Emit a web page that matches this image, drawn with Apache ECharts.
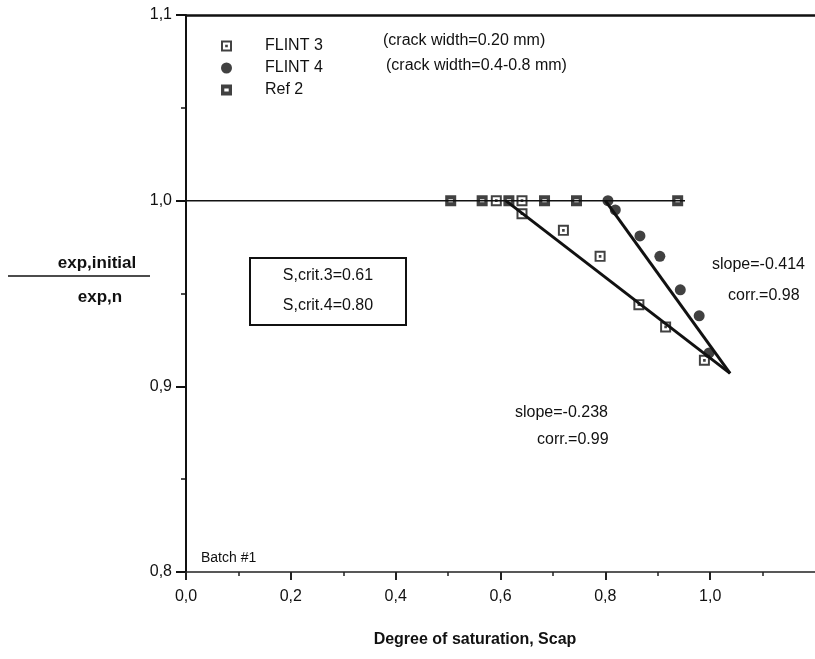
<!DOCTYPE html>
<html>
<head>
<meta charset="utf-8">
<script src="https://cdn.jsdelivr.net/npm/echarts@6/dist/echarts.min.js"></script>
<style>
  html, body { margin: 0; padding: 0; background: #fff; }
  #chart { width: 815px; height: 659px; }
</style>
</head>
<body>
<div id="chart"></div>
<script>
// values
const seriesNames = ['FLINT 3', 'FLINT 4', 'Ref 2']
const flint3 = [[0.592, 1.0], [0.641, 1.0], [0.641, 0.993], [0.720, 0.984], [0.790, 0.970],
  [0.864, 0.944], [0.915, 0.932], [0.989, 0.914]]
const flint4 = [[0.805, 1.0], [0.819, 0.995], [0.866, 0.981], [0.904, 0.970], [0.943, 0.952],
  [0.979, 0.938], [0.998, 0.918]]
const ref2 = [[0.505, 1.0], [0.565, 1.0], [0.616, 1.0], [0.684, 1.0], [0.745, 1.0], [0.938, 1.0]]
const baseLine = [[0, 1.0], [0.952, 1.0]]
const fit3 = [[0.61, 1.0], [1.038, 0.907]]
const fit4 = [[0.80, 1.0], [1.038, 0.907]]
const xTickValues = [0, 0.2, 0.4, 0.6, 0.8, 1.0]

const FONT = '"Liberation Sans", Arial, sans-serif'
const INK = '#111'

// square with a dot in the middle / bold square with a small hole
const symFlint3 = 'path://M0,0H10V10H0Z M1.8,1.8V8.2H8.2V1.8Z M3.8,3.8H6.2V6.2H3.8Z'
const symRef2 = 'path://M0,0H10V10H0Z M3,3.6V6.4H7V3.6Z'

const fmt = (v) => v.toFixed(1).replace('.', ',')

const chart = echarts.init(document.getElementById('chart'))

const option = {
  backgroundColor: '#fff',
  animation: false,
  grid: { left: 186, right: -4, top: 15, bottom: 87 },
  legend: {
    orient: 'vertical',
    left: 216,
    top: 33,
    itemWidth: 11,
    itemHeight: 11,
    itemGap: 6,
    data: seriesNames,
    textStyle: { fontFamily: FONT, fontSize: 16, color: INK, padding: [0, 0, 0, 28] },
  },
  xAxis: [
    {
      type: 'value',
      min: 0,
      max: 1.2,
      interval: 0.2,
      axisLine: { lineStyle: { color: '#222', width: 1.5 } },
      axisTick: { inside: false, length: 8, customValues: xTickValues, lineStyle: { color: '#222', width: 2 } },
      minorTick: { show: true, splitNumber: 2, length: 4, lineStyle: { color: '#222', width: 1.5 } },
      splitLine: { show: false },
      axisLabel: {
        fontFamily: FONT,
        fontSize: 16,
        color: INK,
        margin: 17,
        customValues: xTickValues,
        formatter: fmt,
      },
    },
    {
      // top frame line
      type: 'value',
      position: 'top',
      min: 0,
      max: 1.2,
      axisLine: { show: true, onZero: false, lineStyle: { color: '#111', width: 2.5 } },
      axisTick: { show: false },
      axisLabel: { show: false },
      splitLine: { show: false },
    },
  ],
  yAxis: {
    type: 'value',
    min: 0.8,
    max: 1.1,
    interval: 0.1,
    axisLine: { show: true, lineStyle: { color: '#111', width: 2 } },
    axisTick: { show: true, inside: false, length: 10, lineStyle: { color: '#111', width: 2 } },
    minorTick: { show: true, splitNumber: 2, length: 5, lineStyle: { color: '#111', width: 1.5 } },
    splitLine: { show: false },
    axisLabel: { fontFamily: FONT, fontSize: 16, color: INK, margin: 14, formatter: fmt },
  },
  series: [
    {
      name: 'base',
      type: 'line',
      data: baseLine,
      symbol: 'none',
      lineStyle: { color: INK, width: 1.5 },
      silent: true,
      z: 1,
    },
    {
      name: 'fit3',
      type: 'line',
      data: fit3,
      symbol: 'none',
      lineStyle: { color: INK, width: 3 },
      silent: true,
      z: 1,
    },
    {
      name: 'fit4',
      type: 'line',
      data: fit4,
      symbol: 'none',
      lineStyle: { color: INK, width: 3 },
      silent: true,
      z: 1,
    },
    {
      name: 'FLINT 3',
      type: 'scatter',
      data: flint3,
      symbol: symFlint3,
      symbolSize: 11,
      itemStyle: { color: INK },
      z: 3,
    },
    {
      name: 'FLINT 4',
      type: 'scatter',
      data: flint4,
      symbol: 'circle',
      symbolSize: 11,
      itemStyle: { color: INK },
      z: 3,
    },
    {
      name: 'Ref 2',
      type: 'scatter',
      data: ref2,
      symbol: symRef2,
      symbolSize: 11,
      itemStyle: { color: INK },
      z: 3,
    },
  ],
  graphic: [
    { type: 'text', style: { text: '(crack width=0.20 mm)', x: 383, y: 41, font: '16px ' + FONT, fill: INK, textVerticalAlign: 'middle' } },
    { type: 'text', style: { text: '(crack width=0.4-0.8 mm)', x: 386, y: 66, font: '16px ' + FONT, fill: INK, textVerticalAlign: 'middle' } },
    // y axis title as a fraction
    { type: 'text', style: { text: 'exp,initial', x: 97, y: 263, font: 'bold 17px ' + FONT, fill: INK, textAlign: 'center', textVerticalAlign: 'middle' } },
    { type: 'line', shape: { x1: 8, y1: 276, x2: 150, y2: 276 }, style: { stroke: INK, lineWidth: 1.5 } },
    { type: 'text', style: { text: 'exp,n', x: 100, y: 297, font: 'bold 17px ' + FONT, fill: INK, textAlign: 'center', textVerticalAlign: 'middle' } },
    // critical saturation box
    { type: 'rect', shape: { x: 250, y: 258, width: 156, height: 67 }, style: { fill: '#fff', stroke: INK, lineWidth: 2 } },
    { type: 'text', style: { text: 'S,crit.3=0.61', x: 328, y: 276, font: '16px ' + FONT, fill: INK, textAlign: 'center', textVerticalAlign: 'middle' } },
    { type: 'text', style: { text: 'S,crit.4=0.80', x: 328, y: 306, font: '16px ' + FONT, fill: INK, textAlign: 'center', textVerticalAlign: 'middle' } },
    // fit annotations
    { type: 'text', style: { text: 'slope=-0.414', x: 712, y: 265, font: '16px ' + FONT, fill: INK, textVerticalAlign: 'middle' } },
    { type: 'text', style: { text: 'corr.=0.98', x: 728, y: 296, font: '16px ' + FONT, fill: INK, textVerticalAlign: 'middle' } },
    { type: 'text', style: { text: 'slope=-0.238', x: 515, y: 413, font: '16px ' + FONT, fill: INK, textVerticalAlign: 'middle' } },
    { type: 'text', style: { text: 'corr.=0.99', x: 537, y: 440, font: '16px ' + FONT, fill: INK, textVerticalAlign: 'middle' } },
    { type: 'text', style: { text: 'Batch #1', x: 201, y: 558, font: '14px ' + FONT, fill: INK, textVerticalAlign: 'middle' } },
    { type: 'text', style: { text: 'Degree of saturation, Scap', x: 475, y: 640, font: 'bold 16px ' + FONT, fill: INK, textAlign: 'center', textVerticalAlign: 'middle' } },
  ],
}

chart.setOption(option)
window.addEventListener('resize', () => chart.resize())
</script>
</body>
</html>
